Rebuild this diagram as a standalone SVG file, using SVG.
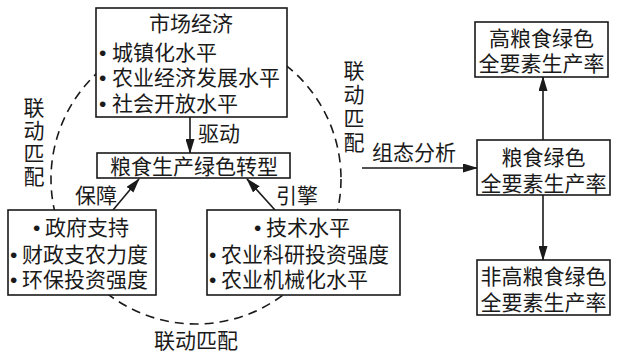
<svg xmlns="http://www.w3.org/2000/svg" width="617" height="353" viewBox="0 0 617 353">
<style>
text{font-family:"Liberation Sans","Noto Sans CJK SC",sans-serif;font-size:21px;fill:#1a1a1a}
.c{text-anchor:middle}
.box{fill:#fff;stroke:#1a1a1a;stroke-width:1.6}
.ln{stroke:#1a1a1a;stroke-width:1.6;fill:none}
.dash{stroke:#1a1a1a;stroke-width:1.6;fill:none;stroke-dasharray:9 6}
</style>
<defs>
<marker id="ah" markerUnits="userSpaceOnUse" markerWidth="15" markerHeight="9" refX="14" refY="4.5" orient="auto">
<path d="M0,0 L15,4.5 L0,9 z" fill="#1a1a1a"/>
</marker>
</defs>
<circle class="dash" cx="196" cy="179" r="145"/>
<g id="labels-link">
<text class="c" x="34" y="115">联<tspan x="34" y="138">动</tspan><tspan x="34" y="161">匹</tspan><tspan x="34" y="184">配</tspan></text>
<text class="c" x="354" y="78">联<tspan x="354" y="102">动</tspan><tspan x="354" y="126">匹</tspan><tspan x="354" y="150">配</tspan></text>
<text class="c" x="196" y="348">联动匹配</text>
</g>
<g id="connectors">
<line class="ln" x1="190" y1="117" x2="190" y2="153" marker-end="url(#ah)"/>
<text x="198" y="141">驱动</text>
<line class="ln" x1="113" y1="210" x2="139" y2="179" marker-end="url(#ah)"/>
<text x="75" y="203">保障</text>
<line class="ln" x1="275" y1="210" x2="247" y2="179" marker-end="url(#ah)"/>
<text x="276" y="203">引擎</text>
<line class="ln" x1="362" y1="168" x2="477" y2="168" marker-end="url(#ah)"/>
<text x="372" y="160">组态分析</text>
<line class="ln" x1="543" y1="140" x2="543" y2="77" marker-end="url(#ah)"/>
<line class="ln" x1="543" y1="195" x2="543" y2="260" marker-end="url(#ah)"/>
</g>
<g id="market">
<rect class="box" x="96" y="8" width="191" height="109"/>
<text x="191" y="31"><tspan class="c" x="191" y="31">市场经济</tspan><tspan x="99" y="60">•</tspan><tspan x="112" y="60">城镇化水平</tspan><tspan x="99" y="85">•</tspan><tspan x="112" y="85">农业经济发展水平</tspan><tspan x="99" y="111">•</tspan><tspan x="112" y="111">社会开放水平</tspan></text>
</g>
<g id="transform">
<rect class="box" x="97" y="153" width="193" height="25"/>
<text class="c" x="194" y="174">粮食生产绿色转型</text>
</g>
<g id="gov">
<rect class="box" x="8" y="210" width="148" height="85"/>
<text x="33" y="235">•<tspan x="45" y="235">政府支持</tspan><tspan x="10" y="262">•</tspan><tspan x="22" y="262">财政支农力度</tspan><tspan x="10" y="287">•</tspan><tspan x="22" y="287">环保投资强度</tspan></text>
</g>
<g id="tech">
<rect class="box" x="207" y="210" width="193" height="85"/>
<text x="254" y="235">•<tspan x="266" y="235">技术水平</tspan><tspan x="209" y="262">•</tspan><tspan x="221" y="262">农业科研投资强度</tspan><tspan x="209" y="287">•</tspan><tspan x="221" y="287">农业机械化水平</tspan></text>
</g>
<g id="high">
<rect class="box" x="475" y="22" width="133" height="55"/>
<text class="c" x="541.5" y="46">高粮食绿色<tspan x="541.5" y="71">全要素生产率</tspan></text>
</g>
<g id="tfp">
<rect class="box" x="477" y="140" width="133" height="55"/>
<text class="c" x="543.5" y="165">粮食绿色<tspan x="543.5" y="191">全要素生产率</tspan></text>
</g>
<g id="nonhigh">
<rect class="box" x="477" y="260" width="133" height="55"/>
<text class="c" x="543.5" y="284">非高粮食绿色<tspan x="543.5" y="310">全要素生产率</tspan></text>
</g>
</svg>
